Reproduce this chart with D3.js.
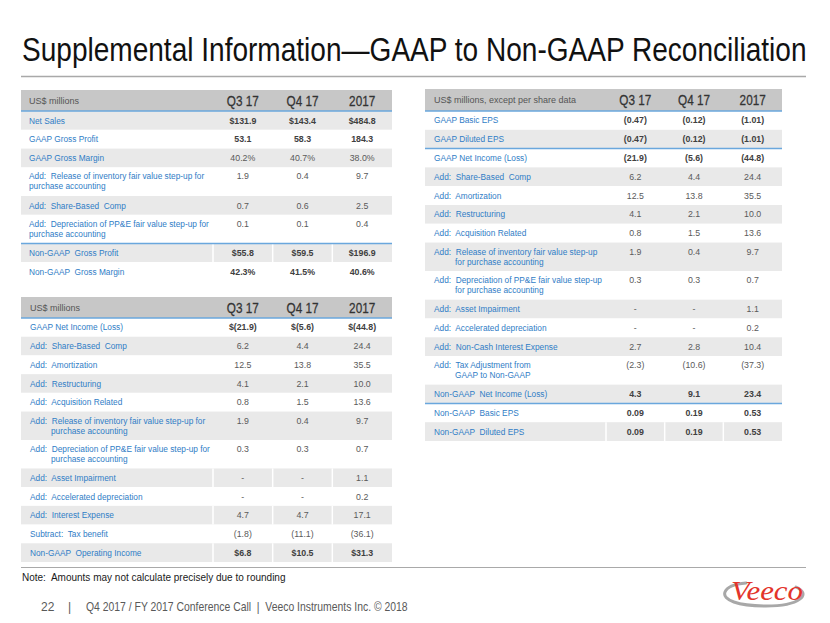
<!DOCTYPE html>
<html><head><meta charset="utf-8">
<script src="https://cdn.jsdelivr.net/npm/d3@7"></script>
<style>body{margin:0;background:#fff} svg{display:block} text{white-space:pre}</style>
</head><body><svg id="c" width="830" height="623"></svg>
<script>
const titleText = "Supplemental Information\u2014GAAP to Non-GAAP Reconciliation";
const colHeads = ["Q3 17", "Q4 17", "2017"];

// Table 1 – gross profit
const t1Unit = "US$ millions";
const t1Labels = ["Net Sales", "GAAP Gross Profit", "GAAP Gross Margin",
  "Add:  Release of inventory fair value step-up for\npurchase accounting",
  "Add:  Share-Based  Comp",
  "Add:  Depreciation of PP&E fair value step-up for\npurchase accounting",
  "Non-GAAP  Gross Profit", "Non-GAAP  Gross Margin"];
const t1Q3 = ["$131.9", "53.1", "40.2%", "1.9", "0.7", "0.1", "$55.8", "42.3%"];
const t1Q4 = ["$143.4", "58.3", "40.7%", "0.4", "0.6", "0.1", "$59.5", "41.5%"];
const t1FY = ["$484.8", "184.3", "38.0%", "9.7", "2.5", "0.4", "$196.9", "40.6%"];

// Table 2 – operating income
const t2Unit = "US$ millions";
const t2Labels = ["GAAP Net Income (Loss)", "Add:  Share-Based  Comp", "Add:  Amortization",
  "Add:  Restructuring", "Add:  Acquisition Related",
  "Add:  Release of inventory fair value step-up for\npurchase accounting",
  "Add:  Depreciation of PP&E fair value step-up for\npurchase accounting",
  "Add:  Asset Impairment", "Add:  Accelerated depreciation", "Add:  Interest Expense",
  "Subtract:  Tax benefit", "Non-GAAP  Operating Income"];
const t2Q3 = ["$(21.9)", "6.2", "12.5", "4.1", "0.8", "1.9", "0.3", "-", "-", "4.7", "(1.8)", "$6.8"];
const t2Q4 = ["$(5.6)", "4.4", "13.8", "2.1", "1.5", "0.4", "0.3", "-", "-", "4.7", "(11.1)", "$10.5"];
const t2FY = ["$(44.8)", "24.4", "35.5", "10.0", "13.6", "9.7", "0.7", "1.1", "0.2", "17.1", "(36.1)", "$31.3"];

// Table 3 – net income and EPS
const t3Unit = "US$ millions, except per share data";
const t3Labels = ["GAAP Basic EPS", "GAAP Diluted EPS", "GAAP Net Income (Loss)",
  "Add:  Share-Based  Comp", "Add:  Amortization", "Add:  Restructuring", "Add:  Acquisition Related",
  "Add:  Release of inventory fair value step-up\nfor purchase accounting",
  "Add:  Depreciation of PP&E fair value step-up\nfor purchase accounting",
  "Add:  Asset Impairment", "Add:  Accelerated depreciation", "Add:  Non-Cash Interest Expense",
  "Add:  Tax Adjustment from\nGAAP to Non-GAAP",
  "Non-GAAP  Net Income (Loss)", "Non-GAAP  Basic EPS", "Non-GAAP  Diluted EPS"];
const t3Q3 = ["(0.47)", "(0.47)", "(21.9)", "6.2", "12.5", "4.1", "0.8", "1.9", "0.3", "-", "-", "2.7", "(2.3)", "4.3", "0.09", "0.09"];
const t3Q4 = ["(0.12)", "(0.12)", "(5.6)", "4.4", "13.8", "2.1", "1.5", "0.4", "0.3", "-", "-", "2.8", "(10.6)", "9.1", "0.19", "0.19"];
const t3FY = ["(1.01)", "(1.01)", "(44.8)", "24.4", "35.5", "10.0", "13.6", "9.7", "0.7", "1.1", "0.2", "10.4", "(37.3)", "23.4", "0.53", "0.53"];

const noteText = "Note:  Amounts may not calculate precisely due to rounding";
const pageNum = "22";
const footerText = "Q4 2017 / FY 2017 Conference Call  |  Veeco Instruments Inc. \u00a9 2018";
const logoText = "Veeco";

const svg = d3.select("#c");
const SANS = "'Liberation Sans',Arial,sans-serif";
const C = {head: "#c7c7c7", shade: "#e9e9e9", blue: "#2f7dc6", rule: "#6aa7dd", val: "#5a5a5a", bold: "#404040", line: "#a9a9a9"};

// text condensed horizontally (Arial Narrow look), anchored at (x, y)
function narrow(sel, x, y, sx, anchor) {
  return sel.attr("x", 0).attr("y", 0).attr("text-anchor", anchor || "start")
    .attr("transform", `translate(${x},${y}) scale(${sx},1)`);
}

// Title
const title = svg.append("text").attr("font-family", SANS).attr("font-size", 33)
  .attr("fill", "#111").text(titleText);
narrow(title, 22, 61, 1);
const tw = title.node().getComputedTextLength();
narrow(title, 22, 61, 785 / tw);
svg.append("line").attr("x1", 21).attr("x2", 806).attr("y1", 76.5).attr("y2", 76.5)
  .attr("stroke", C.line).attr("stroke-width", 1.5);

function drawTable(o) {
  const g = svg.append("g");
  const n = o.labels.length;
  const units = o.labels.map(l => l.includes("\n") ? 1.52 : 1);
  const cum = [0];
  units.forEach(u => cum.push(cum[cum.length - 1] + u));
  const y = d3.scaleLinear().domain([0, cum[n]]).range([o.rowsTop, o.rowsBottom]);
  const x = d3.scaleBand().domain(colHeads).range([o.c1, o.x1]);
  const cols = [o.q3, o.q4, o.fy];

  // header
  g.append("rect").attr("x", o.x0).attr("y", o.headTop).attr("width", o.x1 - o.x0)
    .attr("height", o.rowsTop - o.headTop).attr("fill", C.head);
  const hy = (o.headTop + o.rowsTop) / 2;
  g.append("text").attr("x", o.x0 + o.pad).attr("y", hy + 3.2)
    .attr("font-family", SANS).attr("font-size", 9).attr("fill", "#555").text(o.unit);
  g.selectAll(".ch").data(colHeads).join("text")
    .attr("font-family", SANS).attr("font-size", 14)
    .attr("fill", "#333").attr("stroke", "#333").attr("stroke-width", 0.25).text(d => d)
    .each(function (d) { narrow(d3.select(this), x(d) + x.bandwidth() / 2, hy + 5, 0.84, "middle"); });

  // rows
  const rows = g.selectAll(".row").data(o.labels).join("g");
  rows.append("rect")
    .attr("x", o.x0).attr("width", o.x1 - o.x0)
    .attr("y", (d, i) => y(cum[i])).attr("height", (d, i) => y(cum[i + 1]) - y(cum[i]))
    .attr("fill", (d, i) => (i % 2 === o.shadeParity) ? C.shade : "#fff");

  // column separators
  o.sepRows.forEach(i => {
    [o.c1, ...colHeads.slice(1).map(h => x(h))].forEach(cx => {
      g.append("line").attr("x1", cx).attr("x2", cx)
        .attr("y1", y(cum[i])).attr("y2", y(cum[i + 1]))
        .attr("stroke", "#fff").attr("stroke-width", 1.5);
    });
  });

  const baseY = i => units[i] > 1 ? y(cum[i]) + 12 : (y(cum[i]) + y(cum[i + 1])) / 2 + 3.1;
  rows.each(function (d, i) {
    const r = d3.select(this);
    const lines = d.split("\n");
    lines.forEach((ln, k) => {
      r.append("text").attr("x", o.x0 + o.pad + (k > 0 ? o.indent : 0))
        .attr("y", baseY(i) + k * 10)
        .attr("font-family", SANS).attr("font-size", 8.3).attr("fill", C.blue).text(ln);
    });
    const bold = o.boldRows.includes(i);
    colHeads.forEach((h, j) => {
      r.append("text").attr("x", x(h) + x.bandwidth() / 2).attr("y", baseY(i))
        .attr("text-anchor", "middle").attr("font-family", SANS).attr("font-size", 8.8)
        .attr("font-weight", bold ? "bold" : "normal")
        .attr("fill", bold ? C.bold : C.val).text(cols[j][i]);
    });
  });

  // blue rules
  [0, ...o.ruleRows].forEach(i => {
    const yy = i === 0 ? o.rowsTop : y(cum[i]);
    g.append("line").attr("x1", o.x0).attr("x2", o.x1).attr("y1", yy).attr("y2", yy)
      .attr("stroke", C.rule).attr("stroke-width", 1.5);
  });
}

drawTable({labels: t1Labels, q3: t1Q3, q4: t1Q4, fy: t1FY, unit: t1Unit,
  x0: 21, c1: 213, x1: 392, pad: 8, indent: 0, headTop: 90, rowsTop: 111, rowsBottom: 281,
  shadeParity: 0, boldRows: [0, 1, 6, 7], ruleRows: [6], sepRows: [6]});
drawTable({labels: t2Labels, q3: t2Q3, q4: t2Q4, fy: t2FY, unit: t2Unit,
  x0: 21, c1: 213, x1: 392, pad: 9, indent: 21, headTop: 297, rowsTop: 318, rowsBottom: 562,
  shadeParity: 1, boldRows: [0, 11], ruleRows: [], sepRows: [7, 9, 11]});
drawTable({labels: t3Labels, q3: t3Q3, q4: t3Q4, fy: t3FY, unit: t3Unit,
  x0: 425, c1: 606, x1: 782, pad: 9, indent: 21, headTop: 89, rowsTop: 111, rowsBottom: 441,
  shadeParity: 1, boldRows: [0, 1, 2, 13, 14, 15], ruleRows: [2, 14], sepRows: [15]});

// bottom line, note, footer
svg.append("line").attr("x1", 21).attr("x2", 806).attr("y1", 567.5).attr("y2", 567.5)
  .attr("stroke", C.line).attr("stroke-width", 1.2);
svg.append("text").attr("x", 22).attr("y", 581).attr("font-family", SANS)
  .attr("font-size", 10).attr("fill", "#1a1a1a").text(noteText);
svg.append("text").attr("x", 41).attr("y", 611).attr("font-family", SANS)
  .attr("font-size", 12).attr("fill", "#595959").text(pageNum);
svg.append("text").attr("x", 68).attr("y", 611).attr("font-family", SANS)
  .attr("font-size", 12).attr("fill", "#595959").text("|");
const foot = svg.append("text").attr("font-family", SANS).attr("font-size", 12)
  .attr("fill", "#595959").text(footerText);
narrow(foot, 86, 611, 1);
narrow(foot, 86, 611, 322 / foot.node().getComputedTextLength());

// logo
const logo = svg.append("g");
logo.append("path")
  .attr("d", "M796,587 C812,594 800,606 766,606 C738,606 722,600 725,592 C727,587 735,584 746,583")
  .attr("fill", "none").attr("stroke", "#a8a8a8").attr("stroke-width", 3).attr("stroke-linecap", "round");
const lt = logo.append("text").attr("font-family", "'Liberation Serif','DejaVu Serif',serif")
  .attr("font-style", "italic").attr("font-size", 27).attr("fill", "#e3342b").text(logoText);
narrow(lt, 731, 600, 1);
narrow(lt, 731, 600, 72 / lt.node().getComputedTextLength());
</script></body></html>
